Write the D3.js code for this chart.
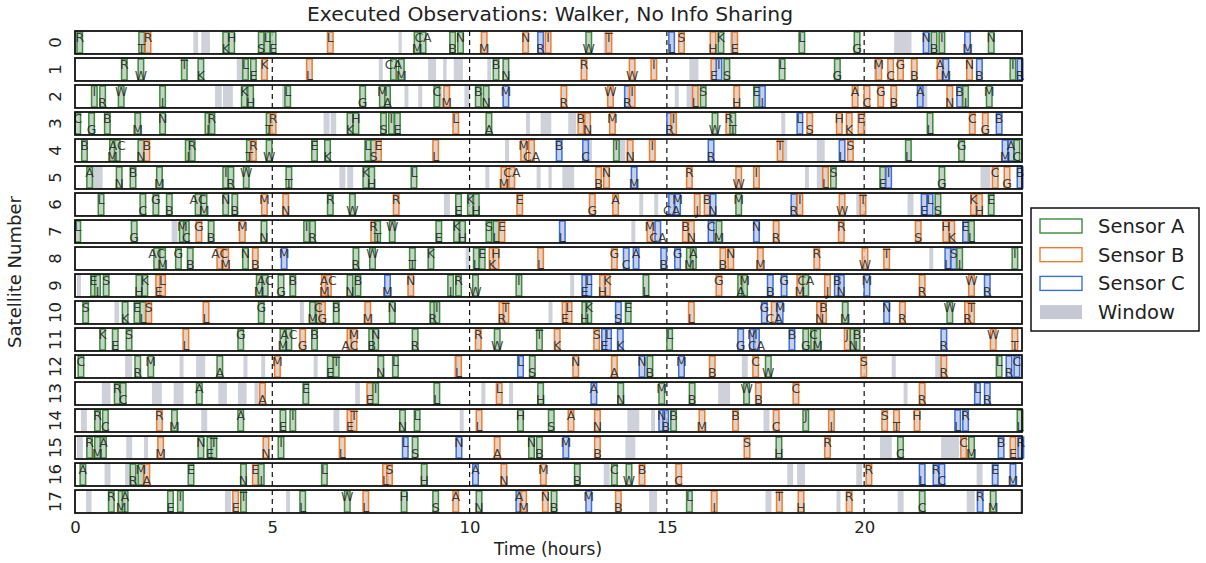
<!DOCTYPE html>
<html>
<head>
<meta charset="utf-8">
<script src="https://cdn.jsdelivr.net/npm/d3@7"></script>
<style>
  body { margin: 0; background: #fff; }
  text { font-family: "DejaVu Sans", sans-serif; }
</style>
</head>
<body>
<svg width="1206" height="563"></svg>
<script>
// observations per satellite: [time (h), sensor, target]
var sat00 = [[0.05,"A","R"],[1.62,"A","T"],[1.78,"B","R"],[3.75,"A","K"],[3.9,"A","H"],[4.65,"A","S"],[4.8,"A","L"],[4.95,"A","E"],[6.4,"B","L"],[8.6,"A","M"],[8.75,"A","CA"],[9.5,"A","B"],[9.7,"A","N"],[10.3,"B","M"],[11.35,"B","N"],[11.73,"C","R"],[11.92,"B","I"],[12.95,"A","W"],[13.46,"B","T"],[15.05,"C","L"],[15.3,"B","S"],[16.1,"B","H"],[16.3,"A","K"],[16.65,"B","E"],[18.35,"A","L"],[19.75,"A","G"],[21.5,"C","N"],[21.7,"A","B"],[21.9,"A","I"],[22.55,"C","M"],[23.15,"A","N"]];
var sat01 = [[1.18,"A","R"],[1.6,"A","W"],[2.7,"A","T"],[3.12,"A","K"],[4.25,"A","L"],[4.45,"A","E"],[4.73,"B","K"],[5.87,"B","L"],[8.0,"A","CA"],[8.2,"A","M"],[10.6,"A","B"],[10.85,"A","N"],[12.83,"B","R"],[14.05,"B","W"],[14.6,"B","I"],[16.12,"B","E"],[16.25,"C","I"],[16.45,"A","S"],[17.85,"A","L"],[19.25,"A","G"],[20.3,"B","M"],[20.6,"B","C"],[20.85,"B","G"],[21.2,"B","B"],[21.85,"B","A"],[22.0,"C","M"],[22.6,"B","N"],[22.85,"C","B"],[23.7,"A","I"],[23.88,"C","R"]];
var sat02 = [[0.42,"A","I"],[0.63,"A","R"],[1.1,"A","W"],[2.15,"A","I"],[4.22,"A","K"],[4.38,"A","H"],[5.32,"A","L"],[7.22,"A","G"],[7.72,"A","M"],[7.85,"A","A"],[9.1,"A","C"],[9.35,"B","M"],[10.15,"A","B"],[10.35,"A","N"],[10.85,"C","M"],[12.32,"B","R"],[13.5,"B","W"],[13.93,"C","R"],[14.05,"B","I"],[15.65,"B","L"],[15.85,"A","S"],[16.7,"B","H"],[17.2,"A","E"],[17.35,"C","I"],[19.7,"B","A"],[20.0,"B","C"],[20.35,"B","G"],[20.68,"B","B"],[21.35,"C","A"],[22.1,"B","N"],[22.35,"C","B"],[22.5,"A","I"],[23.1,"A","M"]];
var sat03 = [[0.0,"A","C"],[0.35,"A","G"],[0.75,"A","B"],[1.52,"A","M"],[2.15,"A","N"],[3.3,"A","I"],[3.4,"A","R"],[4.85,"A","T"],[4.95,"B","R"],[6.9,"A","K"],[7.05,"A","H"],[7.75,"A","S"],[7.95,"A","I"],[8.1,"A","E"],[9.58,"B","L"],[10.42,"A","A"],[12.75,"B","B"],[12.92,"B","N"],[13.55,"B","M"],[15.0,"C","R"],[15.1,"B","I"],[16.15,"A","W"],[16.5,"B","R"],[16.6,"A","T"],[18.3,"C","L"],[18.55,"B","S"],[19.3,"B","H"],[19.55,"B","K"],[19.85,"B","E"],[21.6,"A","L"],[22.67,"B","C"],[23.0,"B","G"],[23.35,"C","B"]];
var sat04 = [[0.17,"A","B"],[0.88,"A","M"],[1.0,"A","AC"],[1.6,"A","N"],[1.75,"B","B"],[2.8,"A","I"],[2.9,"A","R"],[4.35,"A","T"],[4.45,"B","R"],[4.85,"A","W"],[6.0,"A","E"],[6.33,"A","K"],[7.35,"A","L"],[7.5,"A","S"],[7.62,"B","E"],[9.07,"B","L"],[11.3,"B","M"],[11.5,"B","CA"],[12.2,"C","B"],[12.87,"C","C"],[13.65,"A","I"],[14.0,"B","N"],[14.56,"B","I"],[16.05,"C","R"],[17.8,"B","T"],[19.37,"C","L"],[19.58,"B","S"],[21.05,"A","L"],[22.4,"A","G"],[23.5,"C","M"],[23.65,"C","A"],[23.8,"A","C"]];
var sat05 = [[0.3,"A","A"],[1.05,"A","N"],[1.4,"A","B"],[2.07,"A","M"],[3.75,"A","I"],[3.88,"A","R"],[4.27,"A","W"],[5.35,"A","T"],[7.3,"A","K"],[7.45,"A","H"],[8.52,"A","L"],[10.8,"B","M"],[11.0,"B","CA"],[13.2,"B","B"],[13.4,"B","N"],[14.1,"C","M"],[15.5,"B","R"],[16.75,"B","W"],[17.2,"B","I"],[18.95,"B","L"],[19.15,"A","S"],[20.4,"A","E"],[20.55,"C","I"],[21.9,"A","G"],[23.25,"B","C"],[23.55,"B","G"],[23.88,"C","B"]];
var sat06 = [[0.59,"A","L"],[1.65,"A","C"],[1.98,"A","G"],[2.32,"A","B"],[3.05,"A","AC"],[3.2,"A","M"],[3.75,"A","N"],[3.98,"A","B"],[4.73,"B","M"],[5.27,"B","N"],[6.4,"A","R"],[6.96,"A","W"],[8.07,"B","R"],[9.65,"A","E"],[9.95,"A","K"],[10.1,"A","H"],[11.2,"B","E"],[13.04,"B","G"],[13.63,"B","A"],[15.05,"C","CA"],[15.2,"C","M"],[15.7,"B","J"],[15.95,"B","B"],[16.1,"C","N"],[16.75,"A","M"],[18.15,"C","R"],[18.3,"B","I"],[19.37,"B","W"],[19.9,"B","T"],[21.45,"C","E"],[21.6,"C","L"],[21.8,"A","S"],[22.7,"B","K"],[22.85,"B","H"],[23.15,"A","E"]];
var sat07 = [[0.0,"A","L"],[1.43,"A","G"],[2.65,"A","M"],[2.75,"A","C"],[3.07,"B","G"],[3.38,"A","B"],[4.17,"B","M"],[4.72,"A","N"],[5.8,"A","I"],[5.95,"A","R"],[7.5,"B","R"],[7.6,"A","T"],[7.97,"A","W"],[9.15,"A","E"],[9.6,"A","K"],[9.75,"A","H"],[10.42,"A","S"],[10.6,"A","L"],[10.75,"B","E"],[12.28,"C","L"],[14.5,"B","M"],[14.7,"C","CA"],[15.4,"B","B"],[15.55,"B","N"],[16.05,"C","C"],[16.25,"A","M"],[17.2,"C","N"],[17.7,"B","R"],[19.35,"B","R"],[21.3,"B","S"],[22.0,"B","H"],[22.15,"B","K"],[22.5,"C","E"],[22.65,"A","L"]];
var sat08 = [[2.0,"A","AC"],[2.15,"A","M"],[2.55,"A","G"],[2.85,"A","B"],[3.6,"B","AC"],[3.75,"B","M"],[4.25,"A","N"],[4.5,"B","B"],[5.23,"C","M"],[7.05,"A","R"],[7.47,"A","W"],[8.48,"A","T"],[8.95,"A","K"],[10.1,"A","L"],[10.25,"A","E"],[10.5,"B","K"],[10.6,"B","H"],[11.73,"B","L"],[13.6,"B","G"],[13.9,"C","C"],[14.15,"C","A"],[14.85,"C","B"],[15.2,"C","G"],[15.5,"A","M"],[15.6,"A","A"],[16.35,"B","B"],[16.55,"B","N"],[17.3,"B","M"],[18.73,"B","R"],[19.95,"B","W"],[20.5,"B","T"],[22.05,"C","L"],[22.2,"C","S"],[22.35,"A","I"],[23.75,"A","I"]];
var sat09 = [[0.4,"A","E"],[0.5,"A","I"],[0.72,"A","S"],[1.55,"A","H"],[1.7,"A","K"],[2.05,"B","E"],[2.15,"B","L"],[4.6,"A","M"],[4.75,"A","AC"],[5.15,"A","G"],[5.45,"A","B"],[6.25,"B","M"],[6.35,"B","AC"],[6.9,"A","N"],[7.1,"A","B"],[7.85,"C","M"],[8.44,"B","N"],[9.45,"A","I"],[9.65,"A","R"],[10.08,"A","W"],[11.18,"A","I"],[12.85,"C","E"],[12.95,"C","L"],[13.3,"B","H"],[13.42,"B","K"],[14.4,"A","L"],[16.25,"B","G"],[16.8,"A","A"],[16.9,"A","M"],[17.55,"C","B"],[17.9,"C","G"],[18.3,"B","M"],[18.45,"A","CA"],[19.0,"B","J"],[19.25,"C","B"],[19.35,"C","N"],[20.0,"C","M"],[21.4,"B","R"],[22.65,"B","W"],[23.05,"C","R"]];
var sat10 = [[0.2,"A","S"],[1.2,"A","K"],[1.5,"A","E"],[1.65,"A","L"],[1.8,"B","S"],[3.25,"B","L"],[4.65,"A","G"],[5.95,"A","M"],[6.1,"A","C"],[6.2,"B","G"],[6.55,"A","B"],[7.35,"B","M"],[7.97,"A","N"],[9.0,"A","R"],[9.1,"A","I"],[10.75,"B","R"],[10.85,"B","T"],[12.35,"B","E"],[12.45,"B","L"],[12.85,"A","H"],[12.95,"A","K"],[13.7,"C","S"],[13.95,"A","E"],[15.55,"B","L"],[17.4,"C","G"],[17.65,"B","CA"],[17.8,"C","M"],[18.8,"B","N"],[18.9,"B","B"],[19.45,"A","M"],[20.5,"C","N"],[20.9,"B","R"],[22.1,"A","W"],[22.55,"B","R"],[22.65,"B","T"]];
var sat11 = [[0.63,"A","K"],[0.95,"A","E"],[1.3,"A","S"],[2.74,"B","L"],[4.13,"A","G"],[5.2,"A","M"],[5.35,"A","AC"],[5.7,"B","G"],[6.0,"A","B"],[6.9,"B","AC"],[7.0,"B","M"],[7.45,"A","B"],[7.55,"A","N"],[8.55,"A","R"],[10.15,"B","R"],[10.63,"A","W"],[11.7,"A","T"],[12.15,"B","K"],[13.15,"B","S"],[13.35,"C","E"],[13.45,"C","L"],[13.75,"C","K"],[15.0,"A","L"],[16.8,"C","G"],[17.1,"C","M"],[17.2,"C","CA"],[18.1,"C","B"],[18.45,"A","G"],[18.65,"A","C"],[18.75,"A","M"],[19.5,"B","J"],[19.65,"A","N"],[19.75,"A","B"],[21.95,"C","R"],[23.2,"B","W"],[23.75,"B","T"]];
var sat12 = [[0.08,"A","C"],[1.52,"A","R"],[1.85,"A","M"],[3.6,"A","A"],[5.06,"B","M"],[6.4,"A","E"],[6.55,"A","T"],[7.68,"A","N"],[8.05,"A","L"],[9.65,"B","L"],[11.22,"C","L"],[11.52,"A","S"],[12.62,"B","N"],[13.6,"B","A"],[14.3,"C","N"],[14.5,"A","B"],[15.3,"C","M"],[16.08,"B","B"],[17.18,"B","C"],[17.5,"A","W"],[19.92,"B","S"],[21.95,"B","R"],[23.35,"A","L"],[23.6,"C","R"],[23.8,"C","C"]];
var sat13 = [[1.0,"A","R"],[1.15,"A","C"],[3.08,"A","A"],[4.68,"B","A"],[5.78,"A","E"],[7.4,"B","E"],[7.55,"A","I"],[9.1,"A","L"],[10.68,"B","L"],[11.73,"A","H"],[13.08,"C","A"],[13.76,"A","N"],[14.8,"A","M"],[15.57,"A","B"],[16.95,"A","W"],[17.25,"B","B"],[18.2,"B","C"],[21.4,"B","R"],[22.8,"C","L"],[23.05,"C","R"]];
var sat14 = [[0.5,"A","R"],[0.7,"A","C"],[2.07,"B","R"],[2.45,"A","M"],[4.13,"A","A"],[5.2,"A","E"],[5.45,"A","I"],[6.9,"B","E"],[7.0,"B","T"],[8.23,"A","N"],[8.6,"A","L"],[10.17,"B","L"],[11.22,"A","H"],[12.0,"A","S"],[12.5,"B","A"],[13.17,"B","N"],[14.8,"C","N"],[14.9,"C","B"],[15.1,"A","B"],[15.82,"B","M"],[16.67,"B","B"],[17.7,"B","C"],[18.45,"A","J"],[19.1,"B","I"],[20.45,"B","S"],[20.75,"B","T"],[21.27,"B","H"],[22.3,"C","L"],[22.5,"C","R"],[23.88,"A","L"]];
var sat15 = [[0.3,"A","R"],[0.5,"A","M"],[0.65,"A","A"],[2.1,"B","M"],[3.12,"A","N"],[3.35,"A","E"],[3.45,"A","T"],[4.77,"B","N"],[5.15,"A","I"],[6.7,"B","L"],[8.3,"C","L"],[8.55,"A","S"],[9.66,"C","N"],[10.63,"B","A"],[11.5,"A","N"],[11.7,"A","B"],[12.37,"C","M"],[13.17,"B","B"],[16.96,"B","S"],[17.77,"A","H"],[19.0,"B","R"],[20.85,"A","C"],[22.45,"B","C"],[22.65,"A","M"],[23.4,"C","B"],[23.7,"B","E"],[23.9,"C","R"]];
var sat16 = [[0.13,"A","A"],[1.4,"A","R"],[1.6,"A","M"],[1.75,"B","A"],[2.87,"A","E"],[4.2,"A","N"],[4.5,"B","E"],[4.65,"A","I"],[6.25,"A","L"],[7.8,"B","L"],[7.9,"B","S"],[8.78,"A","H"],[10.08,"C","A"],[10.8,"B","N"],[11.8,"B","M"],[12.66,"A","B"],[13.6,"A","C"],[13.97,"A","W"],[14.3,"B","B"],[15.23,"B","C"],[20.05,"B","R"],[21.4,"C","L"],[21.75,"C","R"],[21.9,"C","C"],[23.25,"C","E"],[23.7,"C","M"]];
var sat17 = [[0.85,"A","R"],[1.1,"A","M"],[1.2,"A","A"],[2.35,"A","E"],[2.6,"A","I"],[4.0,"B","E"],[4.2,"A","T"],[5.7,"A","L"],[6.83,"A","W"],[7.3,"B","L"],[8.27,"A","H"],[9.07,"A","S"],[9.58,"B","A"],[10.17,"A","N"],[11.18,"C","A"],[11.3,"B","M"],[11.85,"B","N"],[12.07,"A","B"],[12.95,"C","M"],[13.7,"B","B"],[15.5,"A","L"],[16.13,"B","I"],[17.78,"B","T"],[18.33,"B","H"],[19.55,"B","R"],[21.4,"A","C"],[22.87,"C","R"],[23.2,"A","M"]];

// visibility windows with no executed observation: [start, end] in hours
var win00 = [[3.0,3.12],[3.2,3.42],[8.2,8.28],[13.4,13.55],[16.6,16.8],[20.76,21.2]];
var win01 = [[4.1,4.25],[7.7,7.8],[8.95,9.15],[9.33,9.42],[9.6,9.83],[10.45,10.55],[15.57,15.8],[20.25,20.45]];
var win02 = [[3.55,3.72],[3.75,4.0],[5.25,5.4],[8.35,8.45],[8.7,8.8],[9.2,9.3],[9.87,10.0],[15.2,15.3],[15.5,15.7],[21.4,21.6]];
var win03 = [[6.3,6.45],[6.48,6.62],[11.43,11.53],[11.8,12.07],[12.5,12.7],[17.9,18.0],[19.9,20.05]];
var win04 = [[10.9,11.0],[12.9,13.1],[13.8,13.95],[17.95,18.05],[18.8,19.0]];
var win05 = [[0.45,0.7],[6.7,6.85],[6.9,7.05],[10.4,10.5],[11.7,11.8],[12.0,12.08],[12.35,12.65],[18.5,18.6],[18.8,18.95],[22.95,23.2]];
var win06 = [[9.35,9.5],[14.3,14.4],[14.68,14.78],[19.8,19.95],[21.1,21.25]];
var win07 = [[2.45,2.6],[14.1,14.2]];
var win08 = [[9.9,10.0],[21.65,21.75]];
var win09 = [[0.05,0.15],[12.55,12.65]];
var win10 = [[1.0,1.12],[5.7,5.8],[12.0,12.1]];
var win11 = [];
var win12 = [[1.27,1.45],[2.65,2.75],[3.07,3.3],[4.27,4.37],[4.72,4.82],[6.05,6.15],[9.6,9.72],[16.9,17.05],[20.7,20.8],[21.8,21.95]];
var win13 = [[0.68,0.9],[1.95,2.2],[2.5,2.75],[3.63,3.85],[4.13,4.35],[4.55,4.65],[7.1,7.22],[10.3,10.4],[11.0,11.1],[16.3,16.6],[21.0,21.1]];
var win14 = [[0.15,0.3],[3.2,3.35],[6.55,6.7],[9.75,9.85],[14.0,14.3],[14.6,14.7],[17.45,17.6]];
var win15 = [[0.05,0.2],[1.3,1.45],[1.75,1.85],[13.95,14.2],[20.4,20.7],[21.95,22.4]];
var win16 = [[0.75,0.9],[1.27,1.42],[13.4,13.55],[18.05,18.2],[18.3,18.5],[19.8,19.95],[22.85,23.0]];
var win17 = [[0.28,0.42],[3.8,3.95],[5.35,5.45],[14.55,14.75],[17.5,17.65],[19.3,19.4],[20.85,21.0],[22.6,22.8],[23.95,24.0]];

var sensors = ["A", "B", "C"];
var legendLabels = ["Sensor A", "Sensor B", "Sensor C", "Window"];
var xTicks = [0, 5, 10, 15, 20];
var obsLength = 0.14; // hours

var observations = [sat00,sat01,sat02,sat03,sat04,sat05,sat06,sat07,sat08,sat09,sat10,sat11,sat12,sat13,sat14,sat15,sat16,sat17];
var windows = [win00,win01,win02,win03,win04,win05,win06,win07,win08,win09,win10,win11,win12,win13,win14,win15,win16,win17];

var svg = d3.select("svg");

var xScale = d3.scaleLinear().domain([0, 24]).range([75, 1022]);
var yScale = d3.scaleBand().domain(d3.range(observations.length)).range([31, 513]).paddingInner(0.15);
var edgeColor = d3.scaleOrdinal().domain(sensors).range(["#3d8b3d", "#ef7d2d", "#3a6fe0"]);
var fillColor = d3.scaleOrdinal().domain(sensors).range(["#bccbbc", "#dccbbf", "#bfc8e2"]);
var winColor = "#c6c8d4";

svg.append("text")
  .attr("x", 550).attr("y", 21)
  .attr("text-anchor", "middle")
  .style("font-size", "20.3px").style("fill", "#222")
  .text("Executed Observations: Walker, No Info Sharing");

var row = svg.selectAll(".row")
  .data(observations)
  .enter().append("g")
  .attr("class", "row")
  .attr("transform", function(d, i) { return "translate(0," + yScale(i) + ")"; });

var bh = yScale.bandwidth();

// windows
row.selectAll(".win")
  .data(function(d, i) { return windows[i]; })
  .enter().append("rect")
  .attr("class", "win")
  .attr("x", function(d) { return xScale(d[0]); })
  .attr("width", function(d) { return Math.max(2, xScale(d[1]) - xScale(d[0])); })
  .attr("y", 0).attr("height", bh)
  .style("fill", winColor).style("opacity", 0.85);

// dashed grid
row.selectAll(".grid")
  .data(xTicks.slice(1))
  .enter().append("line")
  .attr("x1", function(d) { return xScale(d); })
  .attr("x2", function(d) { return xScale(d); })
  .attr("y1", 0).attr("y2", bh)
  .style("stroke", "#111").style("stroke-width", 1.2)
  .style("stroke-dasharray", "5,4");

// observation bars
row.selectAll(".obs")
  .data(function(d) { return d; })
  .enter().append("rect")
  .attr("class", "obs")
  .attr("x", function(d) { return xScale(d[0]); })
  .attr("width", xScale(obsLength) - xScale(0))
  .attr("y", 1).attr("height", bh - 2)
  .style("fill", function(d) { return fillColor(d[1]); })
  .style("fill-opacity", 0.85)
  .style("stroke", function(d) { return edgeColor(d[1]); })
  .style("stroke-width", 1.5);

// labels: top or bottom lane, alternating, avoiding collisions where possible
var labelSize = 12.5;
row.each(function(d) {
  var sorted = d.slice().sort(function(a, b) { return a[0] - b[0]; });
  var lastEnd = [-1e9, -1e9], prev = 1;
  sorted.forEach(function(o) {
    var cx = xScale(o[0] + obsLength / 2), w = o[2].length * labelSize * 0.7;
    var left = cx - w / 2;
    var free = [lastEnd[0] <= left, lastEnd[1] <= left];
    var lane;
    if (free[0] && free[1]) lane = 1 - prev;
    else if (free[0]) lane = 0;
    else if (free[1]) lane = 1;
    else lane = lastEnd[0] < lastEnd[1] ? 0 : 1;
    lastEnd[lane] = cx + w / 2;
    prev = lane;
    o.lane = lane;
  });
  d3.select(this).selectAll(".lbl")
    .data(sorted)
    .enter().append("text")
    .attr("class", "lbl")
    .attr("x", function(o) { return xScale(o[0] + obsLength / 2); })
    .attr("y", function(o) { return o.lane === 0 ? 10.5 : bh - 0.5; })
    .attr("text-anchor", "middle")
    .style("font-size", labelSize + "px")
    .style("fill", "#222")
    .style("fill-opacity", 0.85)
    .text(function(o) { return o[2]; });
});

// row frames
row.append("rect")
  .attr("x", xScale(0)).attr("width", xScale(24) - xScale(0))
  .attr("y", 0).attr("height", bh)
  .style("fill", "none").style("stroke", "#111").style("stroke-width", 1.8);

// y tick labels (rotated)
row.append("text")
  .attr("transform", "translate(61," + (bh / 2) + ") rotate(-90)")
  .attr("text-anchor", "middle")
  .style("font-size", "16.5px").style("fill", "#222")
  .text(function(d, i) { return i; });

// x axis on the bottom row
var lastTop = yScale(observations.length - 1) + bh;
var xAxis = svg.append("g")
  .attr("transform", "translate(0," + lastTop + ")")
  .call(d3.axisBottom(xScale).tickValues(xTicks).tickSize(0).tickPadding(8));
xAxis.select(".domain").remove();
xAxis.selectAll("text")
  .style("font-family", "DejaVu Sans, sans-serif")
  .style("font-size", "16.5px").style("fill", "#222");

svg.append("text")
  .attr("x", 548).attr("y", 555)
  .attr("text-anchor", "middle")
  .style("font-size", "17px").style("fill", "#222")
  .text("Time (hours)");

svg.append("text")
  .attr("transform", "translate(21,272) rotate(-90)")
  .attr("text-anchor", "middle")
  .style("font-size", "18px").style("fill", "#222")
  .text("Satellite Number");

// legend
var legend = svg.append("g").attr("transform", "translate(1031,208)");
legend.append("rect")
  .attr("width", 168).attr("height", 123)
  .style("fill", "#fff").style("stroke", "#111").style("stroke-width", 1.5);

var item = legend.selectAll(".item")
  .data(legendLabels)
  .enter().append("g")
  .attr("class", "item")
  .attr("transform", function(d, i) { return "translate(0," + (18 + i * 28.7) + ")"; });

item.append("rect")
  .attr("x", 9).attr("y", -7).attr("width", 42).attr("height", 14)
  .style("fill", function(d, i) { return i < 3 ? "#fff" : winColor; })
  .style("stroke", function(d, i) { return i < 3 ? edgeColor(sensors[i]) : "none"; })
  .style("stroke-width", 1.4);

item.append("text")
  .attr("x", 67).attr("y", 7)
  .style("font-size", "19.5px").style("fill", "#222")
  .text(function(d) { return d; });
</script>
</body>
</html>
